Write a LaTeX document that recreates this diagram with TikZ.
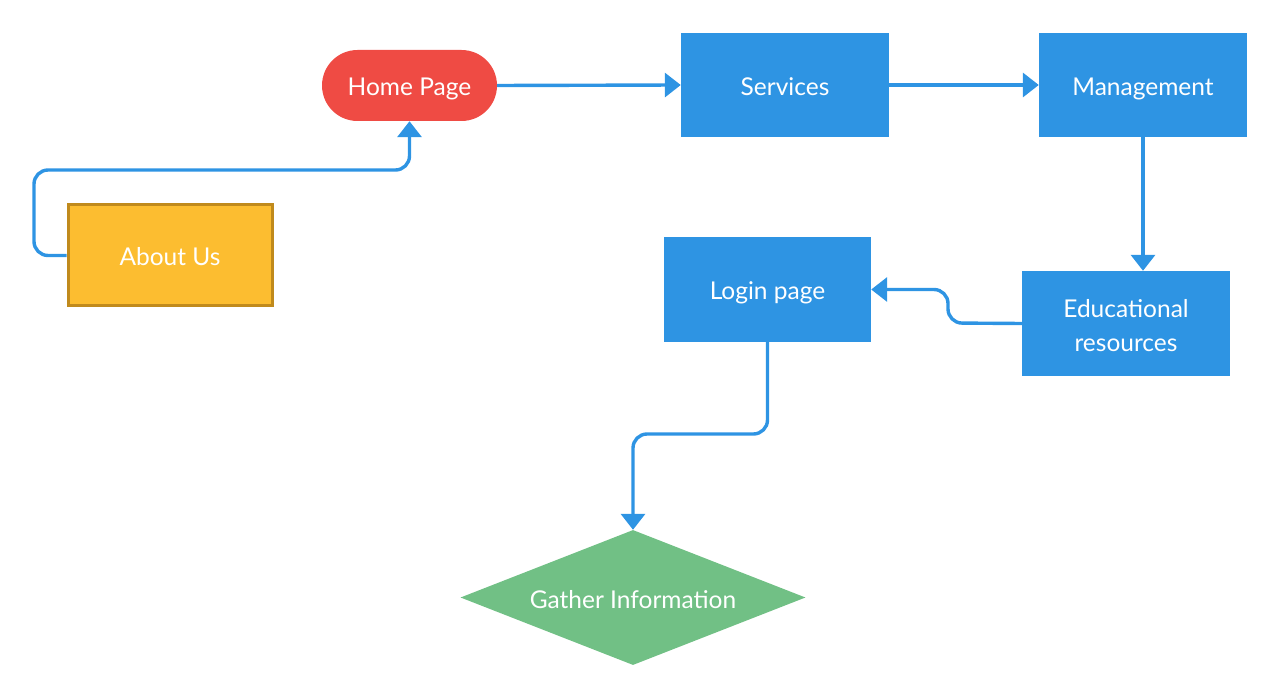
\documentclass[tikz,border=0pt]{standalone}
\usepackage{fontspec}
\setmainfont{Lato}
\usetikzlibrary{arrows.meta,shapes.geometric,positioning}
\definecolor{cblue}{HTML}{2E94E3}
\definecolor{cred}{HTML}{EF4B44}
\definecolor{cyellow}{HTML}{FCBD30}
\definecolor{cyellowd}{HTML}{C08A1C}
\definecolor{cgreen}{HTML}{71C085}
\tikzset{
  lbl/.style={text=white, font=\fontsize{24.5}{34}\selectfont, align=center, inner sep=0pt},
  box/.style={rectangle, fill=cblue, draw=none, minimum width=208pt, minimum height=104pt, lbl, text height=21pt, text depth=0pt},
  conn/.style={draw=cblue, line width=3.4pt, rounded corners=14pt, -{Triangle[length=16pt,width=24pt]}},
}
\begin{document}
\begin{tikzpicture}[x=1pt,y=-1pt]
\useasboundingbox (0,0) rectangle (1280,700);
\node[box, fill=cred, rounded corners=35.5pt, minimum width=175pt, minimum height=71pt] (home) at (409.5,85.5) {Home Page};
\node[box] (serv) at (785,85) {Services};
\node[box] (mgmt) at (1143,85) {Management};
\node[box, fill=cyellow, draw=cyellowd, line width=3pt, minimum width=204pt, minimum height=101pt] (about) at (170,255.5) {About Us};
\node[box, minimum width=207pt, minimum height=105pt] (login) at (767.5,289.5) {Login page};
\node[rectangle, fill=cblue, minimum width=208pt, minimum height=105pt] (edu) at (1126,323.5) {};
\node[lbl] (edutext) at (1126,325.5) {Educational\\resources};
\node[diamond, fill=cgreen, minimum width=345pt, minimum height=135pt, inner sep=0pt, aspect=2.55] (gather) at (633,597.5) {};
\node[lbl, text height=21pt, text depth=0pt] (gathertext) at (gather.center) {Gather Information};
\draw[conn] (home.east) -- (serv.west);
\draw[conn] (serv.east) -- (mgmt.west);
\draw[conn] (mgmt.south) -- (mgmt.south |- edu.north);
\draw[conn] (edu.west) -- (948,323) -- (948,289.5) -- (login.east);
\draw[conn] (login.south) -- (767.5,434) -- (633,434) -- (gather.north);
\draw[conn] (about.west) -- (34,255.5) -- (34,170) -- (409.5,170) -- (home.south);
\end{tikzpicture}
\end{document}
